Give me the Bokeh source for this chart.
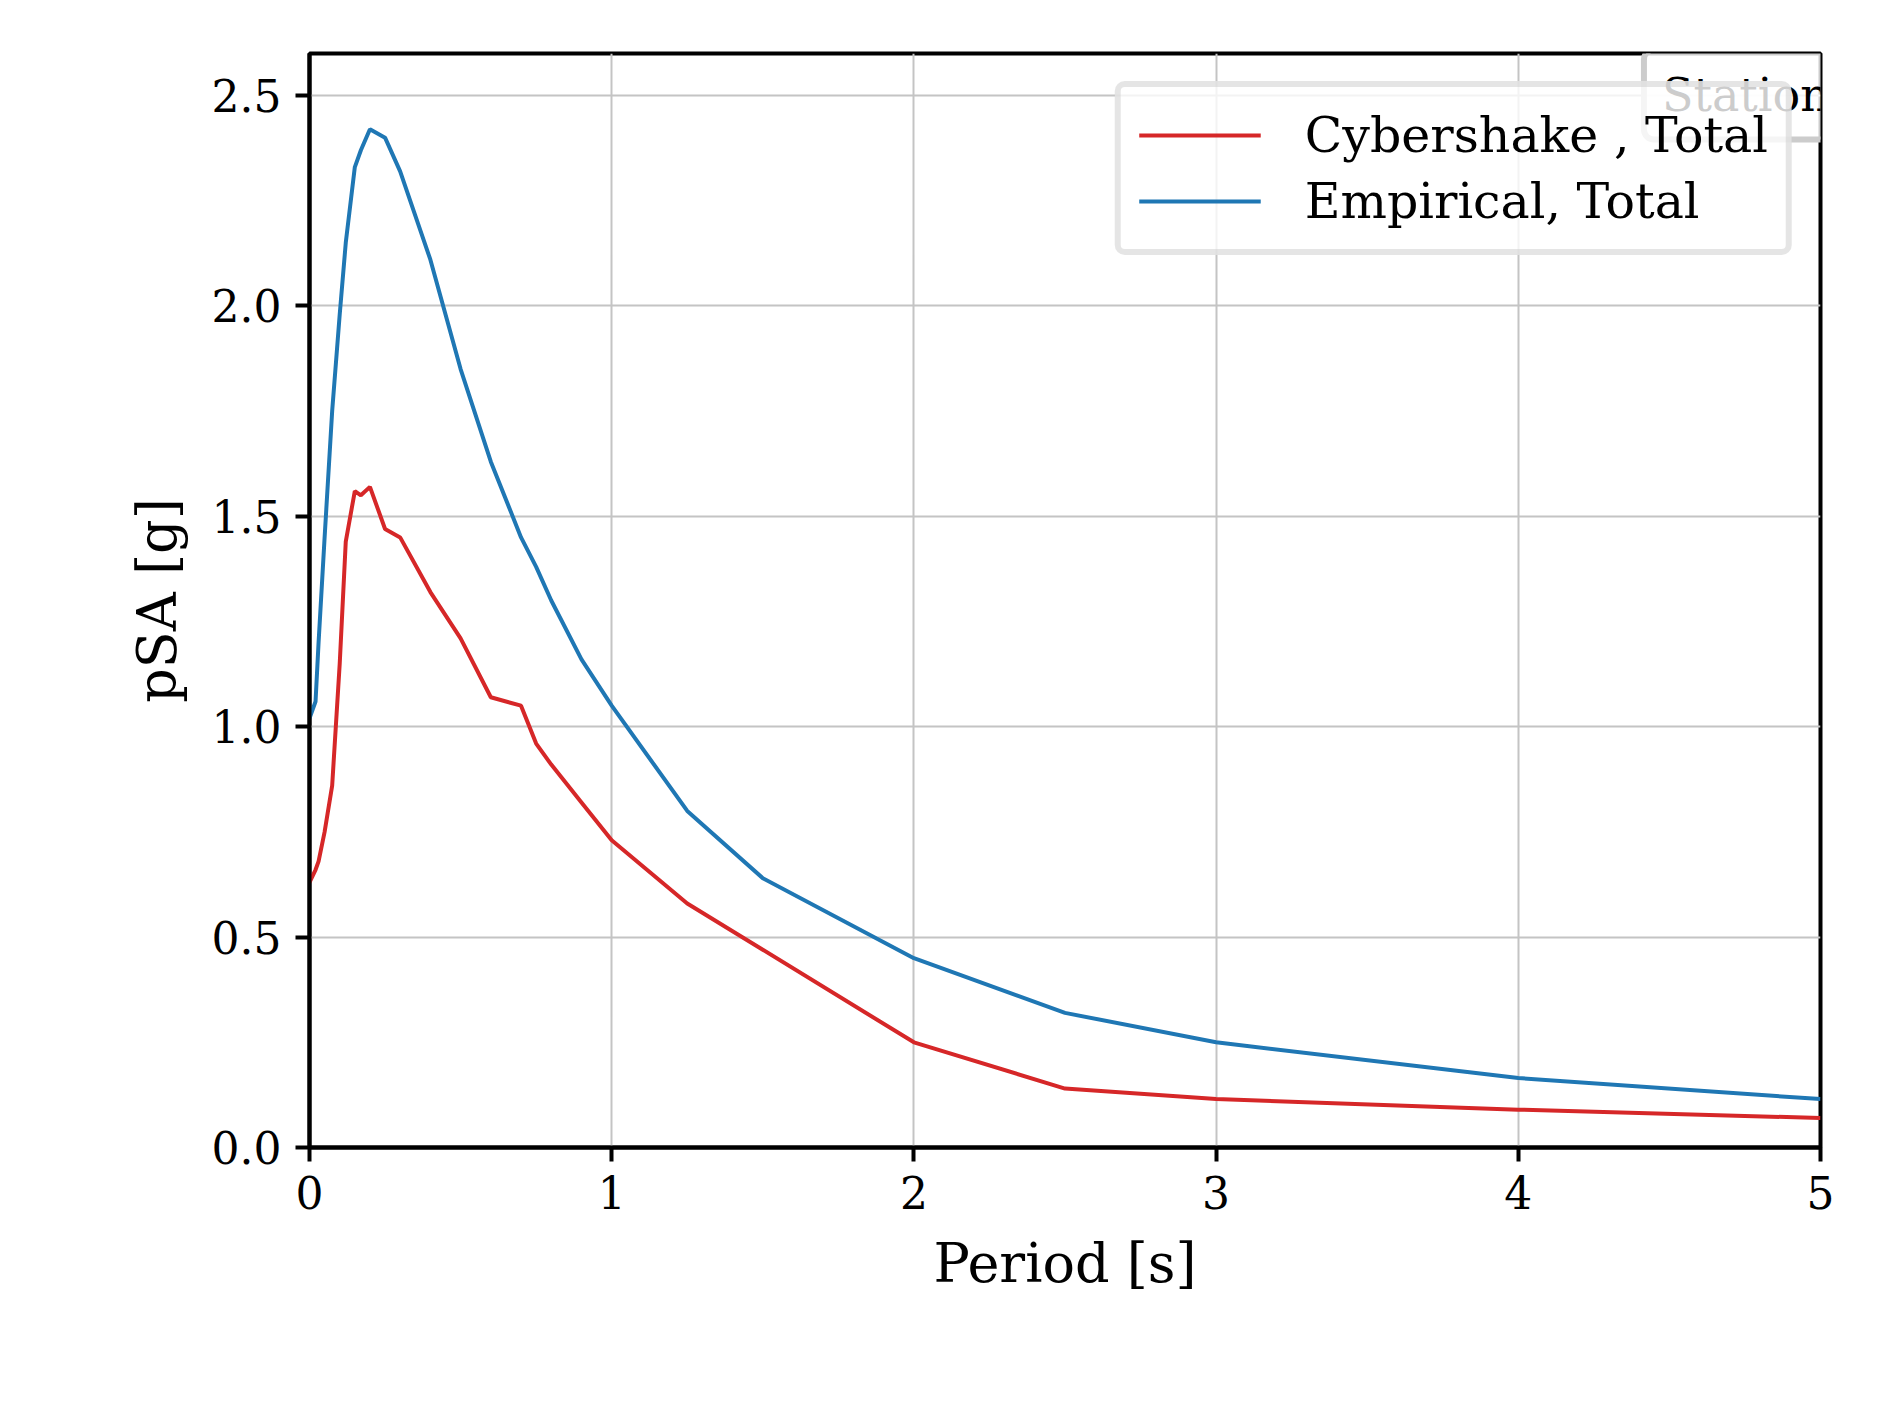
from bokeh.plotting import figure
from bokeh.models import Legend, LegendItem, Label, NumeralTickFormatter, FixedTicker, Range1d
from bokeh.embed import file_html
from bokeh.resources import INLINE

periods = [0.0, 0.02, 0.03, 0.05, 0.075, 0.1, 0.12, 0.15, 0.17, 0.2, 0.25, 0.3, 0.4, 0.5,
           0.6, 0.7, 0.75, 0.8, 0.9, 1.0, 1.25, 1.5, 2.0, 2.5, 3.0, 4.0, 5.0]
cybershake = [0.63, 0.66, 0.68, 0.75, 0.86, 1.15, 1.44, 1.56, 1.55, 1.57, 1.47, 1.45, 1.32, 1.21,
              1.07, 1.05, 0.96, 0.91, 0.82, 0.73, 0.58, 0.47, 0.25, 0.14, 0.115, 0.09, 0.07]
empirical = [1.02, 1.06, 1.2, 1.45, 1.75, 1.98, 2.15, 2.33, 2.37, 2.42, 2.40, 2.32, 2.11, 1.85,
             1.63, 1.45, 1.38, 1.30, 1.16, 1.05, 0.80, 0.64, 0.45, 0.32, 0.25, 0.165, 0.115]
station = "0200ceb"

FONT = "DejaVu Serif"
W, H = 1873, 1401
p = figure(width=W, height=H, output_backend="svg", toolbar_location=None,
           x_range=Range1d(0, 5), y_range=Range1d(0, 2.6),
           min_border_left=309, min_border_right=53, min_border_top=53, min_border_bottom=254)
p.background_fill_color = "white"
p.outline_line_color = "black"
p.outline_line_width = 4

r1 = p.line(periods, cybershake, line_color="#d62728", line_width=4)
r2 = p.line(periods, empirical, line_color="#1f77b4", line_width=4)

for ax in (p.xaxis[0], p.yaxis[0]):
    ax.axis_line_width = 4
    ax.major_tick_line_width = 4
    ax.major_tick_out = 14
    ax.major_tick_in = 0
    ax.minor_tick_line_color = None
    ax.major_label_text_font = FONT
    ax.major_label_text_font_size = "44px"
    ax.major_label_text_color = "black"
    ax.axis_label_text_font = FONT
    ax.axis_label_text_font_size = "54px"
    ax.axis_label_text_font_style = "normal"
    ax.axis_label_text_color = "black"
    ax.major_label_standoff = 14
    ax.axis_label_standoff = 20

p.xaxis.ticker = FixedTicker(ticks=[0, 1, 2, 3, 4, 5])
p.yaxis.ticker = FixedTicker(ticks=[0, 0.5, 1.0, 1.5, 2.0, 2.5])
p.yaxis.formatter = NumeralTickFormatter(format="0.0")
p.xaxis.axis_label = "Period [s]"
p.yaxis.axis_label = "pSA [g]"
p.grid.grid_line_color = "#c4c4c4"
p.grid.grid_line_width = 2

legend = Legend(items=[LegendItem(label="Cybershake , Total", renderers=[r1]),
                       LegendItem(label="Empirical, Total", renderers=[r2])],
                location="top_right", label_text_font=FONT, label_text_font_size="49px",
                label_text_color="black",
                glyph_width=122, glyph_height=60, label_standoff=44, spacing=6,
                padding=18, margin=28,
                border_line_color="#cccccc", border_line_width=6, border_radius=10,
                background_fill_alpha=0.8)
p.add_layout(legend)

lab = Label(x=1768, y=H - 348, x_units="screen", y_units="screen", text="Station: " + station,
            text_font=FONT, text_font_size="46px", text_color="black",
            background_fill_color="white", background_fill_alpha=0.8,
            border_line_color="#cccccc", border_line_width=6, border_radius=10,
            padding=18, text_align="right", text_baseline="middle")
p.add_layout(lab)

open("out.html", "w").write(file_html(p, INLINE))
